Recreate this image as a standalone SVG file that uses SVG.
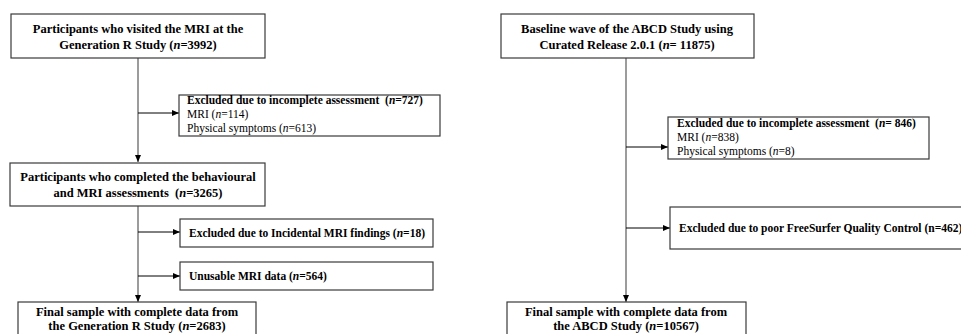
<svg xmlns="http://www.w3.org/2000/svg" width="961" height="334" viewBox="0 0 961 334">
<style>
.box{fill:#fff;stroke:#3a3a3a;stroke-width:1.2}
.main{font-family:"Liberation Serif","Times New Roman",serif;font-size:12.5px;font-weight:bold;fill:#000;text-anchor:middle}
.exh{font-family:"Liberation Serif","Times New Roman",serif;font-size:11.5px;font-weight:bold;fill:#000}
.exr{font-family:"Liberation Serif","Times New Roman",serif;font-size:11.5px;fill:#000}
.it{font-style:italic}
.vline{stroke:#5a5a5a;stroke-width:1.2;fill:none}
.hline{stroke:#000;stroke-width:1;fill:none}
</style>
<defs>
<marker id="ah" markerUnits="userSpaceOnUse" markerWidth="8" markerHeight="8" viewBox="0 0 8 8" refX="7" refY="4" orient="auto">
<path d="M0,1 L7,4 L0,7 Z" fill="#000"/>
</marker>
</defs>
<rect width="961" height="334" fill="#fff"/>

<g id="connectors">
<line class="vline" x1="138" y1="58" x2="138" y2="162" marker-end="url(#ah)"/>
<line class="hline" x1="138" y1="113" x2="179" y2="113" marker-end="url(#ah)"/>
<line class="vline" x1="138" y1="206" x2="138" y2="302" marker-end="url(#ah)"/>
<line class="hline" x1="138" y1="232" x2="180" y2="232" marker-end="url(#ah)"/>
<line class="hline" x1="138" y1="276" x2="180" y2="276" marker-end="url(#ah)"/>
<line class="vline" x1="626" y1="58" x2="626" y2="302" marker-end="url(#ah)"/>
<line class="hline" x1="626" y1="147" x2="668" y2="147" marker-end="url(#ah)"/>
<line class="hline" x1="626" y1="228" x2="670" y2="228" marker-end="url(#ah)"/>
</g>

<g id="gen-start">
<rect class="box" x="11" y="14" width="254" height="44"/>
<text class="main" x="138" y="33">Participants who visited the MRI at the</text>
<text class="main" x="138" y="49">Generation R Study (<tspan class="it">n</tspan>=3992)</text>
</g>

<g id="gen-excl1">
<rect class="box" x="179" y="95" width="261" height="41"/>
<text class="exh" x="187" y="104" xml:space="preserve" style="white-space:pre">Excluded due to incomplete assessment  (<tspan class="it">n</tspan>=727)</text>
<text class="exr" x="187" y="118">MRI (<tspan class="it">n</tspan>=114)</text>
<text class="exr" x="187" y="132">Physical symptoms (<tspan class="it">n</tspan>=613)</text>
</g>

<g id="gen-completed">
<rect class="box" x="10" y="163" width="255" height="43"/>
<text class="main" x="138" y="181">Participants who completed the behavioural</text>
<text class="main" x="138" y="197" xml:space="preserve" style="white-space:pre">and MRI assessments  (<tspan class="it">n</tspan>=3265)</text>
</g>

<g id="gen-incidental">
<rect class="box" x="180" y="219" width="253" height="28"/>
<text class="exh" x="189" y="237">Excluded due to Incidental MRI findings (<tspan class="it">n</tspan>=18)</text>
</g>

<g id="gen-unusable">
<rect class="box" x="180" y="262" width="253" height="28"/>
<text class="exh" x="189" y="280">Unusable MRI data (<tspan class="it">n</tspan>=564)</text>
</g>

<g id="gen-final">
<rect class="box" x="18" y="302" width="238" height="44"/>
<text class="main" x="137" y="316">Final sample with complete data from</text>
<text class="main" x="137" y="330">the Generation R Study (<tspan class="it">n</tspan>=2683)</text>
</g>

<g id="abcd-start">
<rect class="box" x="501" y="14" width="253" height="44"/>
<text class="main" x="627" y="33">Baseline wave of the ABCD Study using</text>
<text class="main" x="627" y="49">Curated Release 2.0.1 (<tspan class="it">n</tspan>= 11875)</text>
</g>

<g id="abcd-excl1">
<rect class="box" x="668" y="117" width="261" height="42"/>
<text class="exh" x="677" y="127" xml:space="preserve" style="white-space:pre">Excluded due to incomplete assessment  (<tspan class="it">n</tspan>= 846)</text>
<text class="exr" x="677" y="141">MRI (<tspan class="it">n</tspan>=838)</text>
<text class="exr" x="677" y="155">Physical symptoms (<tspan class="it">n</tspan>=8)</text>
</g>

<g id="abcd-freesurfer">
<rect class="box" x="670" y="207" width="294" height="42"/>
<text class="exh" x="679" y="232">Excluded due to poor FreeSurfer Quality Control (n=462)</text>
</g>

<g id="abcd-final">
<rect class="box" x="507" y="302" width="239" height="44"/>
<text class="main" x="626" y="316">Final sample with complete data from</text>
<text class="main" x="626" y="330">the ABCD Study (<tspan class="it">n</tspan>=10567)</text>
</g>
</svg>
